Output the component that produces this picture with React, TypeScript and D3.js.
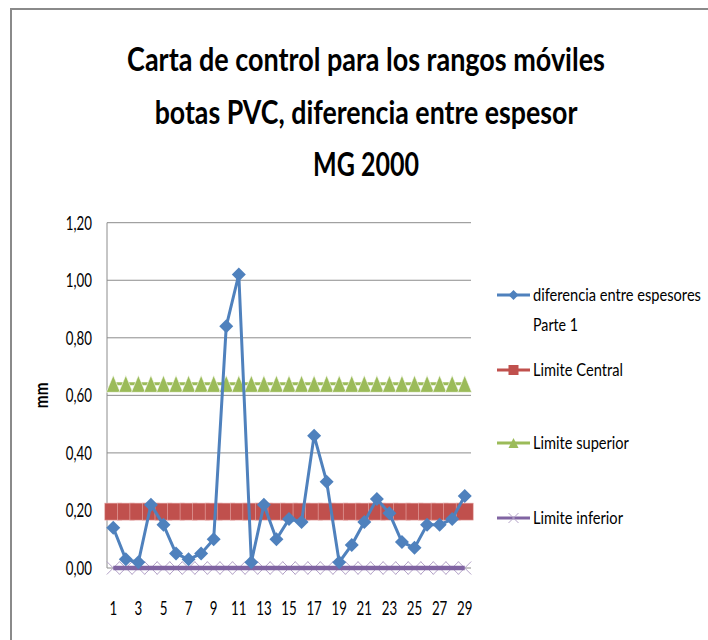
import React, { useLayoutEffect, useRef, useState } from 'react';
import * as d3 from 'd3';

const categories = [1,2,3,4,5,6,7,8,9,10,11,12,13,14,15,16,17,18,19,20,21,22,23,24,25,26,27,28,29];
const diferencia = [0.14,0.03,0.02,0.22,0.15,0.05,0.03,0.05,0.10,0.84,1.02,0.02,0.22,0.10,0.17,0.16,0.46,0.30,0.02,0.08,0.16,0.24,0.19,0.09,0.07,0.15,0.15,0.17,0.25];
const limiteCentral = 0.196;
const limiteSuperior = 0.64;
const limiteInferior = 0;
const yTicks = [0, 0.2, 0.4, 0.6, 0.8, 1.0, 1.2];
const xTickLabels = [1,3,5,7,9,11,13,15,17,19,21,23,25,27,29];
const titleLines = ['Carta de control para los rangos móviles', 'botas PVC, diferencia entre espesor', 'MG 2000'];
const legendLabels = [['diferencia entre espesores', 'Parte 1'], ['Limite Central'], ['Limite superior'], ['Limite inferior']];

const BLUE = '#4F81BD';
const RED = '#C0504D';
const GREEN = '#9BBB59';
const PURPLE = '#8064A2';
const PURPLE_LIGHT = '#B3A2C7';
const GRID = '#8c8c8c';
const FONT = 'Lato, "Open Sans", sans-serif';

const titleWidths = [478, 423, 106];
const legendWidths = [[168, 45], [90], [96], [90]];

function FitText({ x, y, width, anchor = 'start', size = 16, weight = 'normal', children }: any) {
  const ref = useRef<SVGTextElement>(null);
  const [sx, setSx] = useState(0.72);
  useLayoutEffect(() => {
    if (ref.current) {
      const w = ref.current.getComputedTextLength();
      if (w > 0) setSx(width / w);
    }
  }, [children, width, size]);
  return (
    <text ref={ref} transform={`translate(${x},${y}) scale(${sx},1)`} textAnchor={anchor} fontSize={size} fontWeight={weight} fill="#000">{children}</text>
  );
}

function SText({ x, y, sx = 0.7, anchor = 'start', size = 16, weight = 'normal', children }: any) {
  return (
    <text transform={`translate(${x},${y}) scale(${sx},1)`} textAnchor={anchor} fontSize={size} fontWeight={weight} fill="#000">{children}</text>
  );
}

export default function App() {
  const W = 708, H = 640;
  const left = 107, right = 471, top = 222.7, bottom = 568;
  const x = d3.scaleBand<number>().domain(categories).range([left, right]).padding(0);
  const cx = (c: number) => (x(c) as number) + x.bandwidth() / 2;
  const y = d3.scaleLinear().domain([0, 1.2]).range([bottom, top]);
  const fmt = (v: number) => v.toFixed(2).replace('.', ',');
  const line = d3.line<number>().x((_, i) => cx(categories[i])).y(d => y(d));
  const flat = (v: number) => categories.map(() => v);

  const diamond = (px: number, py: number, r: number) => `M${px},${py - r}L${px + r},${py}L${px},${py + r}L${px - r},${py}Z`;
  const tri = (px: number, py: number, w: number, h: number) => `M${px},${py - h / 2}L${px + w / 2},${py + h / 2}L${px - w / 2},${py + h / 2}Z`;
  const cross = (px: number, py: number, r: number) => `M${px - r},${py - r}L${px + r},${py + r}M${px + r},${py - r}L${px - r},${py + r}`;

  const legX = 497, legX2 = 530, legTextX = 533;
  const legY = [295, 370, 443, 518];
  const titleBase = [71, 124, 176];

  return (
    <svg width={W} height={H} style={{ position: 'fixed', left: 0, top: 0, background: '#fff' }} fontFamily={FONT}>
      <rect x={0} y={0} width={W} height={H} fill="#fff" />
      {/* frame */}
      <line x1={10} y1={9} x2={W} y2={9} stroke="#8a8a8a" strokeWidth={2} />
      <line x1={11} y1={9} x2={11} y2={H} stroke="#8a8a8a" strokeWidth={2} />

      {/* title */}
      {titleLines.map((t, i) => (
        <FitText key={i} x={366} y={titleBase[i]} width={titleWidths[i]} anchor="middle" size={33} weight="bold">{t}</FitText>
      ))}

      {/* grid */}
      {yTicks.map(t => (
        <g key={t}>
          {t > 0 && <line x1={left} x2={right} y1={y(t)} y2={y(t)} stroke={GRID} strokeWidth={1} />}
          <SText x={92} y={y(t) + 7} anchor="end" size={19}>{fmt(t)}</SText>
        </g>
      ))}
      <line x1={left} x2={left} y1={top} y2={bottom} stroke={GRID} strokeWidth={1} />
      <line x1={left} x2={right} y1={bottom} y2={bottom} stroke={GRID} strokeWidth={1} />

      {/* y axis title */}
      <text transform={`translate(48,${(top + bottom) / 2}) rotate(-90) scale(0.85,1)`} textAnchor="middle" fontSize={18} fontWeight="bold" fill="#000">mm</text>

      {/* x labels */}
      {xTickLabels.map(c => (
        <SText key={c} x={cx(c)} y={615} anchor="middle" size={19}>{c}</SText>
      ))}

      {/* Limite inferior */}
      {categories.map(c => (
        <path key={'x' + c} d={cross(cx(c), y(limiteInferior), 6.5)} stroke={PURPLE_LIGHT} strokeWidth={1} fill="none" />
      ))}
      <path d={line(flat(limiteInferior)) as string} stroke={PURPLE} strokeWidth={4.5} fill="none" />

      {/* Limite superior */}
      <path d={line(flat(limiteSuperior)) as string} stroke={GREEN} strokeWidth={3} fill="none" />
      {categories.map(c => (
        <path key={'t' + c} d={tri(cx(c), y(limiteSuperior), 14, 17)} fill={GREEN} stroke="#fff" strokeWidth={0.6} />
      ))}

      {/* Limite central */}
      <path d={line(flat(limiteCentral)) as string} stroke={RED} strokeWidth={3} fill="none" />
      {categories.map(c => (
        <rect key={'s' + c} x={cx(c) - 8.5} y={y(limiteCentral) - 8.5} width={17} height={17} fill={RED} stroke="#e8b0ae" strokeWidth={0.6} />
      ))}

      {/* data */}
      <path d={line(diferencia) as string} stroke={BLUE} strokeWidth={3} fill="none" strokeLinejoin="round" />
      {diferencia.map((v, i) => (
        <path key={'d' + i} d={diamond(cx(categories[i]), y(v), 7)} fill={BLUE} />
      ))}

      {/* legend */}
      <g>
        <line x1={legX} x2={legX2} y1={legY[0]} y2={legY[0]} stroke={BLUE} strokeWidth={3} />
        <path d={diamond((legX + legX2) / 2, legY[0], 5)} fill={BLUE} />
        <line x1={legX} x2={legX2} y1={legY[1]} y2={legY[1]} stroke={RED} strokeWidth={3} />
        <rect x={(legX + legX2) / 2 - 5} y={legY[1] - 5} width={10} height={10} fill={RED} />
        <line x1={legX} x2={legX2} y1={legY[2]} y2={legY[2]} stroke={GREEN} strokeWidth={3} />
        <path d={tri((legX + legX2) / 2, legY[2], 10, 10)} fill={GREEN} />
        <line x1={legX} x2={legX2} y1={legY[3]} y2={legY[3]} stroke={PURPLE} strokeWidth={3} />
        <path d={cross((legX + legX2) / 2, legY[3], 5)} stroke={PURPLE_LIGHT} strokeWidth={1} />
        {legendLabels.map((lines, i) => (
          <g key={i}>
            {lines.map((l, j) => (
              <FitText key={j} x={legTextX} y={legY[i] + 6 + j * 30} width={legendWidths[i][j]} size={18}>{l}</FitText>
            ))}
          </g>
        ))}
      </g>
    </svg>
  );
}
